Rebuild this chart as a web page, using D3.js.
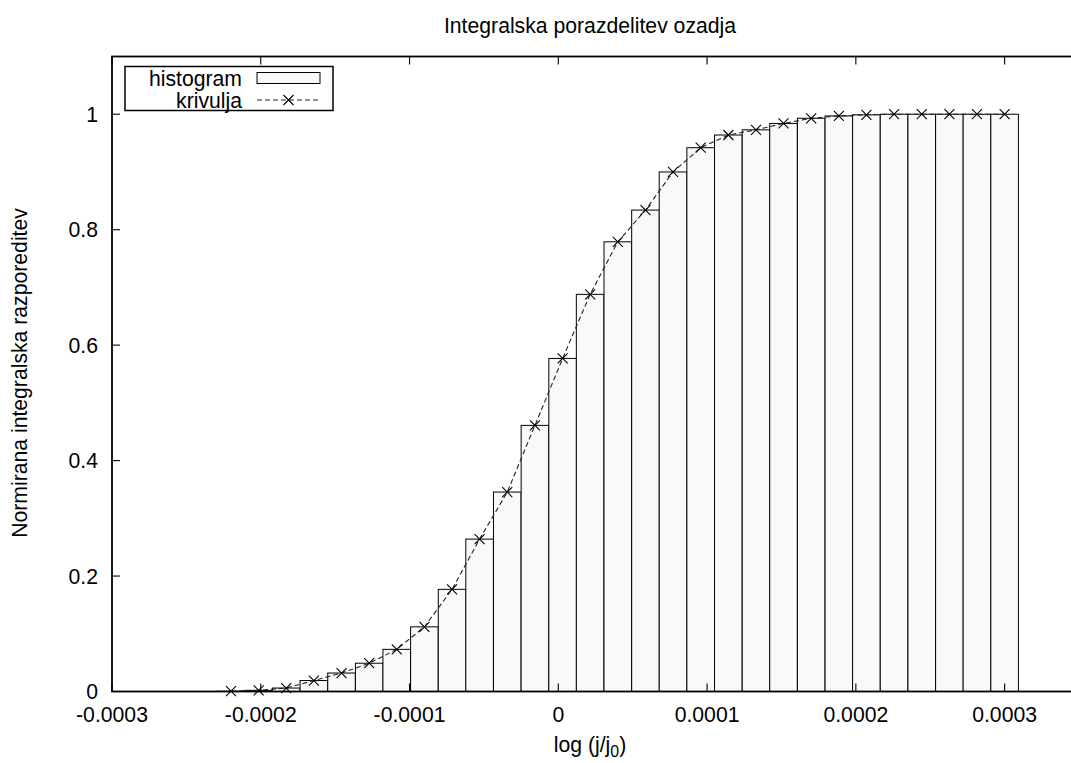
<!DOCTYPE html>
<html>
<head>
<meta charset="utf-8">
<script src="https://cdn.jsdelivr.net/npm/d3@7/dist/d3.min.js"></script>
<style>
  html, body { margin: 0; padding: 0; background: #fff; }
  svg { display: block; }
  text { font-family: "Liberation Sans", Arial, sans-serif; fill: #000; }
</style>
</head>
<body>
<svg id="chart" width="1071" height="763"></svg>
<script>
// ---- data ----
const binCenters = [-0.00022, -0.0002014, -0.0001829, -0.0001643, -0.0001457, -0.0001271,
  -0.0001086, -0.00009, -0.0000714, -0.0000529, -0.0000343, -0.0000157, 0.0000029,
  0.0000214, 0.00004, 0.0000586, 0.0000771, 0.0000957, 0.0001143, 0.0001329, 0.0001514,
  0.00017, 0.0001886, 0.0002071, 0.0002257, 0.0002443, 0.0002629, 0.0002814, 0.0003];
const histValues = [0.0005, 0.002, 0.006, 0.019, 0.032, 0.049, 0.073, 0.112, 0.177, 0.264,
  0.3455, 0.461, 0.577, 0.688, 0.779, 0.834, 0.900, 0.942, 0.964, 0.973, 0.984, 0.993,
  0.997, 0.999, 1.0, 1.0, 1.0, 1.0, 1.0];
const curveValues = histValues.slice();
const binWidth = 0.00001857;
const xTicks = [-0.0003, -0.0002, -0.0001, 0, 0.0001, 0.0002, 0.0003];
const xTickLabels = ["-0.0003", "-0.0002", "-0.0001", "0", "0.0001", "0.0002", "0.0003"];
const yTicks = [0, 0.2, 0.4, 0.6, 0.8, 1];
const yTickLabels = ["0", "0.2", "0.4", "0.6", "0.8", "1"];
const titleText = "Integralska porazdelitev ozadja";
const yLabelText = "Normirana integralska razporeditev";
const legendLabels = ["histogram", "krivulja"];

// ---- layout ----
const L = 112, R = 1079, T = 56.5, B = 691.5;
const svg = d3.select("#chart");
const x = d3.scaleLinear().domain([-0.0003, 0.00035]).range([L, R]);
const y = d3.scaleLinear().domain([0, 1.1]).range([B, T]);
const fs = 21.2;

// bars
svg.append("g").selectAll("rect").data(binCenters).join("rect")
  .attr("x", (d) => x(d - binWidth / 2))
  .attr("width", (d) => x(d + binWidth / 2) - x(d - binWidth / 2))
  .attr("y", (d, i) => y(histValues[i]))
  .attr("height", (d, i) => y(0) - y(histValues[i]))
  .attr("fill", "#f9f9f9")
  .attr("stroke", "#000")
  .attr("stroke-width", 1);

// curve
const line = d3.line().x((d) => x(d[0])).y((d) => y(d[1]));
const pts = binCenters.map((d, i) => [d, curveValues[i]]);
svg.append("path").datum(pts).attr("d", line)
  .attr("fill", "none").attr("stroke", "#222").attr("stroke-width", 1.1)
  .attr("stroke-dasharray", "5,3");

function cross(g, cx, cy, s) {
  g.append("path")
    .attr("d", `M${cx - s},${cy - s}L${cx + s},${cy + s}M${cx - s},${cy + s}L${cx + s},${cy - s}`)
    .attr("stroke", "#000").attr("stroke-width", 1.1).attr("fill", "none");
}
const mk = svg.append("g");
pts.forEach((p) => cross(mk, x(p[0]), y(p[1]), 5));

// frame
svg.append("rect").attr("x", L).attr("y", T).attr("width", R - L).attr("height", B - T)
  .attr("fill", "none").attr("stroke", "#000").attr("stroke-width", 1.8);

// ticks
const tl = 8;
const tg = svg.append("g").attr("stroke", "#000").attr("stroke-width", 1.1);
xTicks.forEach((t) => {
  const px = x(t);
  tg.append("line").attr("x1", px).attr("x2", px).attr("y1", B).attr("y2", B - tl);
  tg.append("line").attr("x1", px).attr("x2", px).attr("y1", T).attr("y2", T + tl);
});
yTicks.forEach((t) => {
  const py = y(t);
  tg.append("line").attr("x1", L).attr("x2", L + tl).attr("y1", py).attr("y2", py);
  tg.append("line").attr("x1", R).attr("x2", R - tl).attr("y1", py).attr("y2", py);
});

// tick labels
svg.append("g").selectAll("text").data(xTicks).join("text")
  .attr("x", (d) => x(d)).attr("y", 722)
  .attr("text-anchor", "middle").attr("font-size", fs)
  .text((d, i) => xTickLabels[i]);
svg.append("g").selectAll("text").data(yTicks).join("text")
  .attr("x", 98).attr("y", (d) => y(d)).attr("dy", "0.36em")
  .attr("text-anchor", "end").attr("font-size", fs)
  .text((d, i) => yTickLabels[i]);

// title
svg.append("text").attr("x", 590).attr("y", 33).attr("text-anchor", "middle")
  .attr("font-size", fs).text(titleText);

// x label
const xl = svg.append("text").attr("x", 590).attr("y", 752).attr("text-anchor", "middle")
  .attr("font-size", fs);
xl.append("tspan").text("log (j/j");
xl.append("tspan").attr("font-size", fs * 0.75).attr("dy", 5).text("0");
xl.append("tspan").attr("dy", -5).text(")");

// y label
svg.append("text").attr("transform", `translate(27,373) rotate(-90)`)
  .attr("text-anchor", "middle").attr("font-size", fs).text(yLabelText);

// legend
const lg = svg.append("g");
lg.append("rect").attr("x", 125).attr("y", 66.5).attr("width", 208).attr("height", 44)
  .attr("fill", "#fff").attr("stroke", "#000").attr("stroke-width", 1.5);
lg.append("text").attr("x", 242).attr("y", 78).attr("dy", "0.36em").attr("text-anchor", "end")
  .attr("font-size", fs).text(legendLabels[0]);
lg.append("rect").attr("x", 257).attr("y", 72.5).attr("width", 63).attr("height", 11)
  .attr("fill", "#f9f9f9").attr("stroke", "#000").attr("stroke-width", 1);
lg.append("text").attr("x", 242).attr("y", 100).attr("dy", "0.36em").attr("text-anchor", "end")
  .attr("font-size", fs).text(legendLabels[1]);
lg.append("line").attr("x1", 257).attr("x2", 320).attr("y1", 100).attr("y2", 100)
  .attr("stroke", "#222").attr("stroke-width", 1.1).attr("stroke-dasharray", "5,3");
cross(lg, 288.5, 100, 5);
</script>
</body>
</html>
